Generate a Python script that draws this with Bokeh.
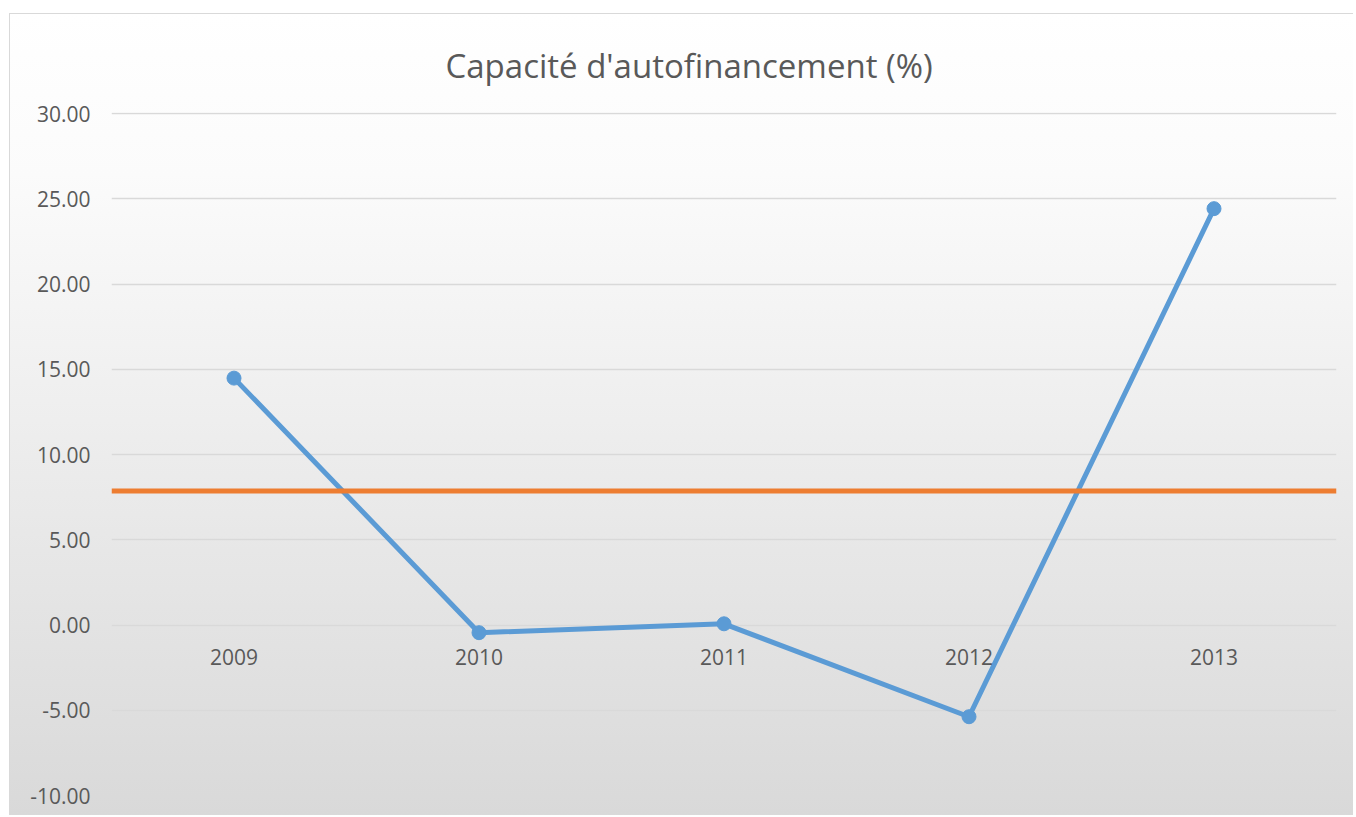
from bokeh.plotting import figure
from bokeh.models import Span, FixedTicker, CustomJSTickFormatter, Range1d
from bokeh.embed import file_html
from bokeh.resources import INLINE

title_text = "Capacité d'autofinancement (%)"
years = ["2009", "2010", "2011", "2012", "2013"]
caf = [14.48, -0.45, 0.07, -5.38, 24.42]
reference_level = 7.86
y_ticks = [-10, -5, 0, 5, 10, 15, 20, 25, 30]

FONT = "Open Sans"
TEXT = "#595959"
GRID = "#d9d9d9"
BLUE = "#5b9bd5"
ORANGE = "#ed7d31"

p = figure(
    x_range=years,
    y_range=Range1d(-10, 30.06),
    width=1344,
    height=802,
    output_backend="svg",
    toolbar_location=None,
    min_border_left=101,
    min_border_right=18,
    min_border_top=98,
    min_border_bottom=21,
    background_fill_color=None,
    border_fill_color=None,
    outline_line_color=None,
)
p.styles = {
    "margin-left": "9px",
    "margin-top": "13px",
    "background": "linear-gradient(to bottom, #ffffff 0%, #fbfbfb 20%, #d9d9d9 100%)",
    "border-left": "1px solid #d9d9d9",
    "border-top": "1px solid #d9d9d9",
}
p.x_range.range_padding = 0

p.title.text = title_text
p.title.align = "left"
p.title.text_font = FONT
p.title.text_font_size = "33px"
p.title.text_font_style = "normal"
p.title.text_color = TEXT
p.title.standoff = 50
p.title.offset = 334

# y axis
p.yaxis.ticker = FixedTicker(ticks=y_ticks)
p.yaxis.formatter = CustomJSTickFormatter(code="return tick.toFixed(2);")
p.yaxis.axis_line_color = None
p.yaxis.major_tick_line_color = None
p.yaxis.minor_tick_line_color = None
p.yaxis.major_label_text_font = FONT
p.yaxis.major_label_text_font_size = "21px"
p.yaxis.major_label_text_color = TEXT
p.yaxis.major_label_standoff = 15

# x axis crossing at zero
p.xaxis.fixed_location = 0
p.xaxis.axis_line_color = None
p.xaxis.major_tick_line_color = None
p.xaxis.minor_tick_line_color = None
p.xaxis.major_label_text_font = FONT
p.xaxis.major_label_text_font_size = "21px"
p.xaxis.major_label_text_color = TEXT
p.xaxis.major_label_standoff = 18

p.xgrid.grid_line_color = None
p.ygrid.grid_line_color = GRID
p.ygrid.grid_line_width = 1.5

p.add_layout(Span(location=reference_level, dimension="width",
                  line_color=ORANGE, line_width=5))

p.line(years, caf, line_color=BLUE, line_width=5)
p.scatter(years, caf, size=14, fill_color=BLUE, line_color=BLUE)

open("out.html", "w").write(file_html(p, INLINE))
